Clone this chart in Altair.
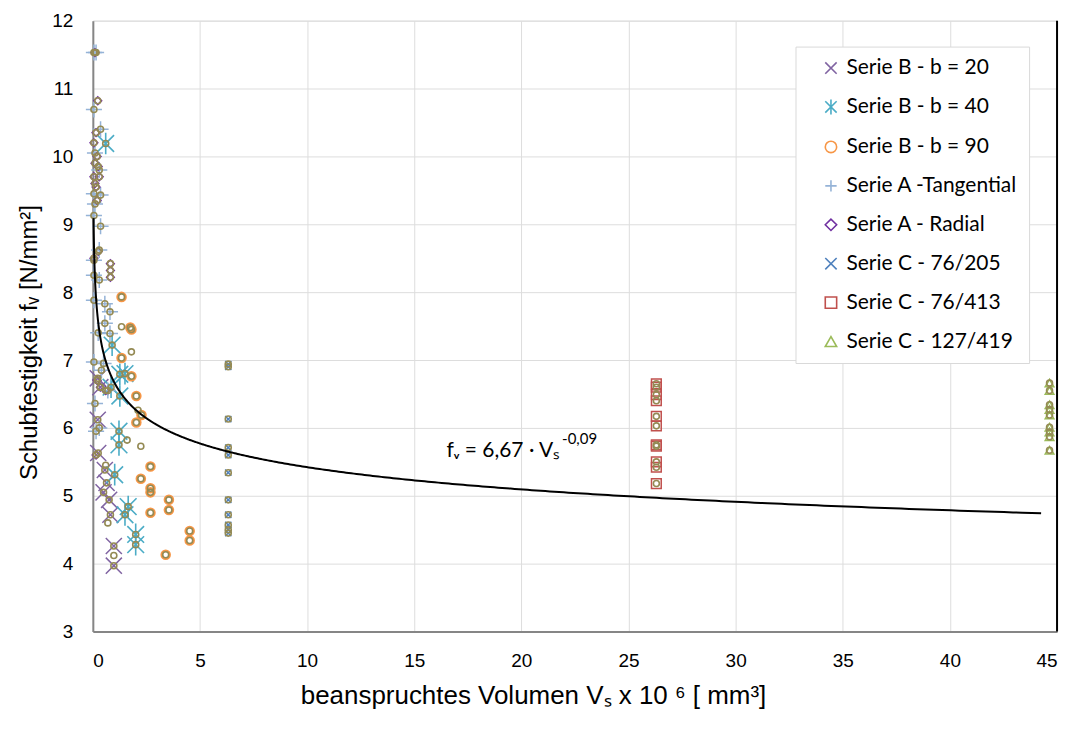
import altair as alt
import pandas as pd

FONT = "Lato"

series_names = ["Serie B - b = 20", "Serie B - b = 40", "Serie B - b = 90",
                "Serie A -Tangential", "Serie A - Radial", "Serie C - 76/205",
                "Serie C - 76/413", "Serie C - 127/419"]
series_colors = ["#8064A2", "#4BACC6", "#F79646", "#95B3D7", "#7030A0",
                 "#4F81BD", "#C0504D", "#9BBB59"]
series_shapes = ["M-1,-1L1,1M-1,1L1,-1",
                 "M-1,-1L1,1M-1,1L1,-1M0,-1.3L0,1.3",
                 "circle",
                 "M-1,0L1,0M0,-1L0,1",
                 "diamond",
                 "M-1,-1L1,1M-1,1L1,-1",
                 "square",
                 "triangle-up"]
series_sizes = [260, 280, 70, 260, 60, 40, 95, 75]
series_strokes = [1.5, 1.6, 2.2, 1.5, 1.5, 1.5, 1.5, 1.5]

# Serie B - b = 20
x_b20 = [0.23, 0.35, 0.23, 0.25, 0.56, 0.64, 0.76, 0.82, 0.98, 0.98, 0.5]
y_b20 = [6.73, 6.6, 6.12, 5.63, 5.38, 5.19, 4.94, 4.72, 4.26, 3.97, 5.05]
# Serie B - b = 40
x_b40 = [0.6, 0.9, 1.26, 1.5, 1.26, 1.22, 1.22, 1.02, 1.65, 1.5, 2.0, 2.0, 0.85]
y_b40 = [10.19, 7.22, 6.79, 6.80, 6.47, 5.95, 5.75, 5.31, 4.84, 4.72, 4.43, 4.28, 6.6]
# Serie B - b = 90
x_b90 = [1.34, 1.75, 1.8, 1.34, 1.8, 2.03, 2.27, 2.03, 2.69, 2.24, 2.69, 2.69,
         3.55, 3.55, 2.69, 4.52, 4.52, 3.4]
y_b90 = [7.93, 7.48, 7.45, 7.03, 6.76, 6.47, 6.19, 6.08, 5.43, 5.25, 5.11, 5.05,
         4.94, 4.79, 4.75, 4.48, 4.34, 4.13]
# Serie A - Tangential
x_at = [0.05, 0.15, 0.05, 0.36, 0.1, 0.3, 0.05, 0.36, 0.1, 0.05, 0.36, 0.3, 0.05,
        0.05, 0.3, 0.05, 0.56, 0.8, 0.56, 0.8, 0.25, 0.05, 0.4, 0.1, 0.15, 0.7, 0.5, 0.3]
y_at = [11.53, 11.53, 10.69, 10.40, 10.05, 9.8, 9.45, 9.43, 9.3, 9.13, 8.97, 8.62, 8.47,
        8.25, 8.18, 7.88, 7.83, 7.71, 7.54, 7.39, 7.40, 6.97, 6.85, 6.36, 5.95, 6.55, 6.95, 6.0]
# Serie A - Radial
x_ar = [0.1, 0.23, 0.15, 0.05, 0.2, 0.1, 0.3, 0.05, 0.15, 0.25, 0.82, 0.82, 0.82,
        0.05, 0.2, 0.35, 0.6, 0.15, 0.25, 0.1, 0.2]
y_ar = [11.53, 10.82, 10.35, 10.2, 10.0, 9.9, 9.7, 9.7, 9.55, 8.6, 8.42, 8.32, 8.22,
        8.5, 6.7, 6.6, 6.55, 5.6, 9.85, 9.6, 9.35]
# Serie C - 76/205
x_c205 = [6.32] * 11
y_c205 = [6.94, 6.9, 6.13, 5.71, 5.6, 5.34, 4.94, 4.72, 4.57, 4.5, 4.45]
# Serie C - 76/413
x_c413 = [26.3] * 11
y_c413 = [6.65, 6.6, 6.49, 6.4, 6.17, 6.03, 5.75, 5.73, 5.5, 5.42, 5.18]
# Serie C - 127/419
x_c419 = [44.65] * 9
y_c419 = [6.66, 6.55, 6.34, 6.27, 6.19, 6.01, 5.94, 5.87, 5.67]
# additional points (olive circles only, no legend entry)
x_extra = [1.34, 1.8, 2.11, 1.6, 2.24, 0.98, 0.7, 0.6]
y_extra = [7.49, 7.12, 6.26, 5.82, 5.73, 4.12, 4.6, 5.45]

# power-law fit f_v = a * V^b
fit_a = 6.67
fit_b = -0.09

all_x = [x_b20, x_b40, x_b90, x_at, x_ar, x_c205, x_c413, x_c419]
all_y = [y_b20, y_b40, y_b90, y_at, y_ar, y_c205, y_c413, y_c419]

rows = []
for name, xs, ys in zip(series_names, all_x, all_y):
    for xv, yv in zip(xs, ys):
        rows.append({"x": xv, "y": yv, "Serie": name})
df = pd.DataFrame(rows)
df_all = pd.concat([df[["x", "y"]], pd.DataFrame({"x": x_extra, "y": y_extra})])

xscale = alt.Scale(domain=[0, 45], nice=False, zero=False)
yscale = alt.Scale(domain=[3, 12], nice=False, zero=False)

xaxis = alt.Axis(values=list(range(0, 46, 5)), format="d",
                 title="beanspruchtes Volumen Vₛ  x 10 ⁶ [ mm³]",
                 grid=True, ticks=False, labelPadding=20, titlePadding=12,
                 titleFontSize=26, titleFontWeight=400, labelFontSize=19,
                 titleX=441, domainColor="#868686", domainWidth=2)
yaxis = alt.Axis(values=list(range(3, 13)), format="d",
                 title="Schubfestigkeit fᵥ [N/mm²]",
                 grid=True, ticks=False, labelPadding=20, titlePadding=10,
                 titleFontSize=24, titleFontWeight=400, labelFontSize=19,
                 titleY=322, domainColor="#868686", domainWidth=2)

color_enc = alt.Color("Serie:N", scale=alt.Scale(domain=series_names, range=series_colors),
                      legend=alt.Legend(title=None, orient="none", legendX=704, legendY=26,
                                        labelFontSize=21, labelFont=FONT, symbolSize=130,
                                        symbolStrokeWidth=1.6, rowPadding=17, padding=11,
                                        symbolOffset=14, labelOffset=5,
                                        strokeColor="#D9D9D9", fillColor="white",
                                        labelLimit=400))
shape_enc = alt.Shape("Serie:N", scale=alt.Scale(domain=series_names, range=series_shapes))

layers = []
for i, name in enumerate(series_names):
    lay = alt.Chart(df).transform_filter(alt.datum.Serie == name).mark_point(
        filled=False, strokeWidth=series_strokes[i], opacity=1, size=series_sizes[i]
    ).encode(
        x=alt.X("x:Q", scale=xscale, axis=xaxis),
        y=alt.Y("y:Q", scale=yscale, axis=yaxis),
        color=color_enc,
        shape=shape_enc,
    )
    layers.append(lay)

overlay = alt.Chart(df_all).mark_point(shape="circle", filled=False, color="#948A54",
                                       size=36, strokeWidth=1.6, opacity=1).encode(
    x=alt.X("x:Q", scale=xscale),
    y=alt.Y("y:Q", scale=yscale),
)

curve = alt.Chart(alt.sequence(-3.44, 3.80, 0.01, as_="t")).transform_calculate(
    x="exp(datum.t)", y=f"{fit_a} * pow(exp(datum.t), {fit_b})"
).mark_line(color="black", strokeWidth=2).encode(
    x=alt.X("x:Q", scale=xscale),
    y=alt.Y("y:Q", scale=yscale),
)

border = alt.Chart(pd.DataFrame({"x": [45]})).mark_rule(color="black", strokeWidth=2).encode(
    x=alt.X("x:Q", scale=xscale)
)

eq_main = pd.DataFrame({"x": [16.5], "y": [5.66], "t": ["fᵥ = 6,67 · Vₛ"]})
eq_sup = pd.DataFrame({"x": [21.9], "y": [5.84], "t": ["-0,09"]})
eq1 = alt.Chart(eq_main).mark_text(align="left", baseline="middle", fontSize=21,
                                   font=FONT, color="black").encode(
    x=alt.X("x:Q", scale=xscale), y=alt.Y("y:Q", scale=yscale), text="t:N")
eq2 = alt.Chart(eq_sup).mark_text(align="left", baseline="middle", fontSize=15,
                                  font=FONT, color="black").encode(
    x=alt.X("x:Q", scale=xscale), y=alt.Y("y:Q", scale=yscale), text="t:N")

chart = alt.layer(*layers, overlay, curve, border, eq1, eq2).properties(
    width=966, height=612,
    autosize=alt.AutoSizeParams(type="none"),
    padding={"left": 85, "top": 12, "right": 20, "bottom": 100},
).configure_view(stroke=None).configure_axis(
    gridColor="#BFBFBF", gridWidth=1, labelFont=FONT, titleFont=FONT,
    labelColor="black", titleColor="black", titleFontWeight=400,
).configure(background="white")

chart.save("out.html", embed_options={"renderer": "svg", "actions": False})
